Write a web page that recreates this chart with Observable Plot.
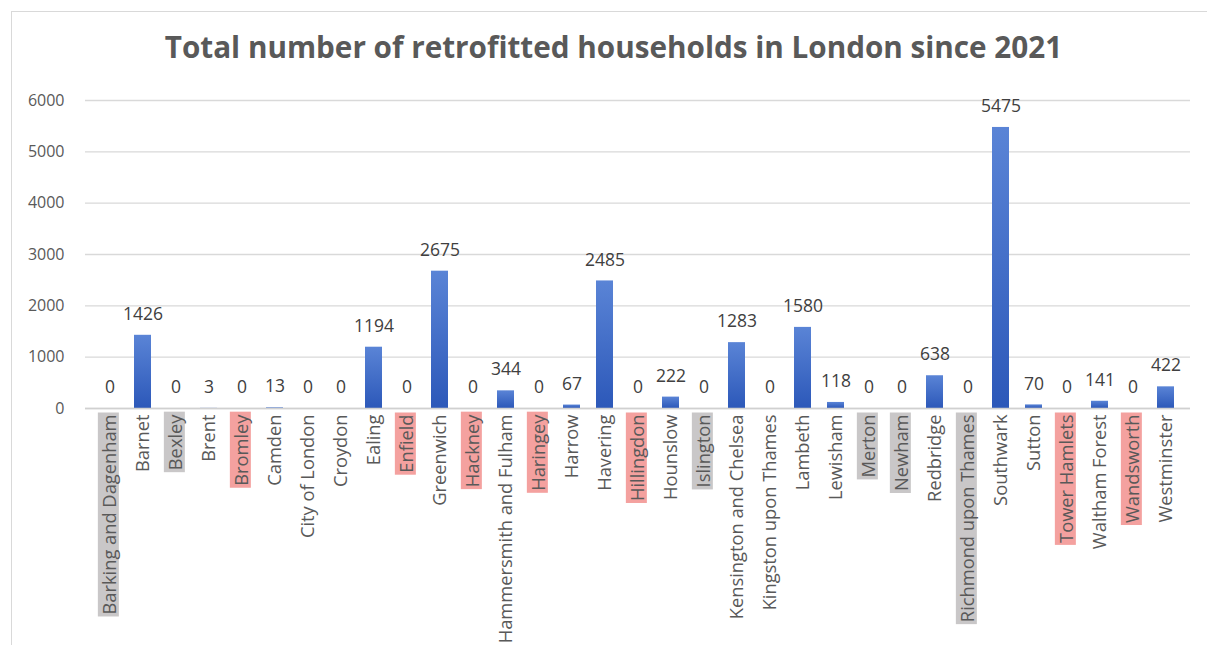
<!DOCTYPE html>
<html><head><meta charset="utf-8">
<script src="https://cdn.jsdelivr.net/npm/d3@7"></script>
<script src="https://cdn.jsdelivr.net/npm/@observablehq/plot@0.6"></script>
<style>
body{margin:0;background:#fff;overflow:hidden;font-family:"Open Sans",sans-serif;width:1207px;height:645px}
#frame{position:absolute;left:11px;top:11px;width:1230px;height:670px;border:1px solid #d9d9d9;box-sizing:border-box}
#title{position:absolute;left:10px;top:27px;width:1207px;text-align:center;font-weight:700;font-size:29.7px;color:#595959;line-height:40px;white-space:nowrap}
#chart{position:absolute;left:0;top:80px}
</style></head><body>
<div id="frame"></div>
<div id="title">Total number of retrofitted households in London since 2021</div>
<div id="chart"></div>
<script>
const boroughs = ["Barking and Dagenham","Barnet","Bexley","Brent","Bromley","Camden","City of London","Croydon","Ealing","Enfield","Greenwich","Hackney","Hammersmith and Fulham","Haringey","Harrow","Havering","Hillingdon","Hounslow","Islington","Kensington and Chelsea","Kingston upon Thames","Lambeth","Lewisham","Merton","Newham","Redbridge","Richmond upon Thames","Southwark","Sutton","Tower Hamlets","Waltham Forest","Wandsworth","Westminster"];
const households = [0,1426,0,3,0,13,0,0,1194,0,2675,0,344,0,67,2485,0,222,0,1283,0,1580,118,0,0,638,0,5475,70,0,141,0,422];
const greyHighlighted = ["Barking and Dagenham","Bexley","Islington","Merton","Newham","Richmond upon Thames"];
const redHighlighted = ["Bromley","Enfield","Hackney","Haringey","Hillingdon","Tower Hamlets","Wandsworth"];
const yTicks = [0,1000,2000,3000,4000,5000,6000];

const data = boroughs.map((b,i)=>({borough:b, value:households[i]}));

const plot = Plot.plot({
  width:1207, height:565,
  marginLeft:85, marginRight:17, marginTop:20, marginBottom:237,
  style:{fontFamily:"'Open Sans', sans-serif", color:"#595959", background:"transparent", overflow:"visible"},
  x:{domain:boroughs, paddingInner:0.49, paddingOuter:0.245, label:null},
  y:{domain:[0,6000], label:null},
  marks:[
    () => {
      const defs = d3.create("svg:defs");
      const g = defs.append("linearGradient").attr("id","barGrad").attr("x1",0).attr("y1",0).attr("x2",0).attr("y2",1);
      g.append("stop").attr("offset","0%").attr("stop-color","#5a84d6");
      g.append("stop").attr("offset","100%").attr("stop-color","#2c58b9");
      return defs.node();
    },
    Plot.gridY(yTicks,{stroke:"#d9d9d9", strokeOpacity:1, strokeWidth:1.3}),
    Plot.axisY(yTicks,{tickSize:0, tickPadding:21, fontSize:16, label:null, fill:"#595959", tickFormat:d=>String(d)}),
    Plot.barY(data,{x:"borough", y:"value", fill:"url(#barGrad)"}),
    Plot.ruleY([0],{stroke:"#d0d0d0", strokeWidth:1.6}),
    Plot.text(data,{x:"borough", y:"value", text:d=>String(d.value), dy:-21, fontSize:17.5, fill:"#404040"}),
    Plot.axisX({tickRotate:-90, tickSize:0, tickPadding:6, fontSize:18.3, label:null, fill:"#595959"})
  ]
});
document.getElementById("chart").append(plot);

// highlight backgrounds behind selected category labels
const texts = plot.querySelectorAll('g[aria-label="x-axis tick label"] text');
texts.forEach(t => {
  const name = t.textContent;
  let col = null;
  if (greyHighlighted.includes(name)) col = "#c9c7c8";
  else if (redHighlighted.includes(name)) col = "#f4a19f";
  if (!col) return;
  const bb = t.getBBox();
  const r = document.createElementNS("http://www.w3.org/2000/svg","rect");
  r.setAttribute("x", bb.x - 2);
  r.setAttribute("y", bb.y + 2);
  r.setAttribute("width", bb.width + 4);
  r.setAttribute("height", bb.height - 4);
  r.setAttribute("fill", col);
  const tr = t.getAttribute("transform");
  if (tr) r.setAttribute("transform", tr);
  t.parentNode.insertBefore(r, t);
});
</script>
</body></html>
